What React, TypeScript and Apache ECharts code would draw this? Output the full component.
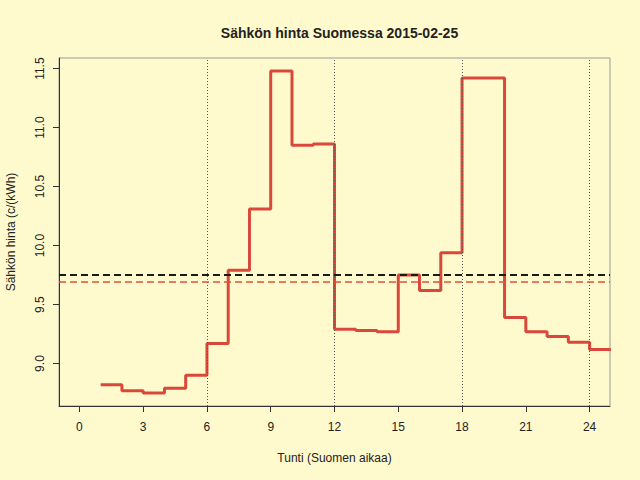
import React, { useEffect, useRef } from "react";
import * as echarts from "echarts";

const hours = [1, 2, 3, 4, 5, 6, 7, 8, 9, 10, 11, 12, 13, 14, 15, 16, 17, 18, 19, 20, 21, 22, 23, 24];
const prices = [
  8.82, 8.77, 8.75, 8.79, 8.9, 9.17, 9.79, 10.31, 11.48, 10.85, 10.86, 9.29,
  9.28, 9.27, 9.75, 9.62, 9.94, 11.42, 11.42, 9.39, 9.27, 9.23, 9.18, 9.12,
];
const xTicks = [0, 3, 6, 9, 12, 15, 18, 21, 24];
const yTicks = [9.0, 9.5, 10.0, 10.5, 11.0, 11.5];
const dividerHours = [6, 12, 18, 24];
const referencePrice = 9.75;
const dayMean = 9.69;
const xRange = [-0.96, 24.96];
const yRange = [8.64, 11.59];

const FONT = "'Liberation Sans', Arial, Helvetica, sans-serif";

export default function App() {
  const ref = useRef<HTMLDivElement>(null);
  useEffect(() => {
    if (!ref.current) return;
    const chart = echarts.init(ref.current, undefined, { renderer: "svg" });
    const stepData: number[][] = hours.map((h, i) => [h, prices[i]]);
    stepData.push([hours[hours.length - 1] + 1, prices[prices.length - 1]]);

    chart.setOption({
      animation: false,
      backgroundColor: "#fffacd",
      textStyle: { fontFamily: FONT },
      title: {
        text: "Sähkön hinta Suomessa 2015-02-25",
        left: 334.5,
        top: 21,
        textAlign: "center",
        textStyle: { fontFamily: FONT, fontSize: 14, fontWeight: "bold", color: "#222" },
      },
      grid: {
        left: 59,
        right: 30,
        top: 58,
        bottom: 74,
        containLabel: false,
        outerBoundsMode: "none",
        show: true,
        borderColor: "#9a9a9a",
        borderWidth: 1,
        backgroundColor: "transparent",
      },
      xAxis: {
        type: "value",
        min: xRange[0],
        max: xRange[1],
        name: "Tunti (Suomen aikaa)",
        nameLocation: "middle",
        nameGap: 46,
        nameTextStyle: { fontFamily: FONT, fontSize: 12, color: "#222" },
        axisLine: { show: true, onZero: false, lineStyle: { color: "#333", width: 1 } },
        axisTick: { show: true, length: 6, customValues: xTicks, lineStyle: { color: "#333" } },
        axisLabel: {
          customValues: xTicks,
          margin: 15,
          fontFamily: FONT,
          fontSize: 12,
          color: "#222",
        },
        splitLine: { show: false },
      },
      yAxis: {
        type: "value",
        min: yRange[0],
        max: yRange[1],
        name: "Sähkön hinta (c/(kWh)",
        nameLocation: "middle",
        nameGap: 42,
        nameRotate: 90,
        nameTextStyle: { fontFamily: FONT, fontSize: 12, color: "#222" },
        axisLine: { show: true, onZero: false, lineStyle: { color: "#333", width: 1 } },
        axisTick: { show: true, length: 6, customValues: yTicks, lineStyle: { color: "#333" } },
        axisLabel: {
          customValues: yTicks,
          rotate: 90,
          margin: 13,
          fontFamily: FONT,
          fontSize: 12,
          color: "#222",
          formatter: (v: number) => v.toFixed(1),
        },
        splitLine: { show: false },
      },
      series: [
        {
          type: "line",
          step: "end",
          data: stepData,
          symbol: "none",
          clip: true,
          lineStyle: { color: "#d9483b", width: 3 },
          z: 3,
          markLine: {
            silent: true,
            symbol: "none",
            label: { show: false },
            data: [
              ...dividerHours.map((h) => ({
                xAxis: h,
                lineStyle: { color: "#555", width: 1, type: [1, 2] },
              })),
              {
                yAxis: referencePrice,
                lineStyle: { color: "#1a1a1a", width: 2, type: [7, 4] },
              },
              {
                yAxis: dayMean,
                lineStyle: { color: "#e0503f", width: 1.6, type: [7, 4] },
              },
            ],
          },
        },
      ],
    });
    return () => chart.dispose();
  }, []);

  return (
    <div
      ref={ref}
      style={{ position: "fixed", left: 0, top: 0, width: 640, height: 480 }}
    />
  );
}
